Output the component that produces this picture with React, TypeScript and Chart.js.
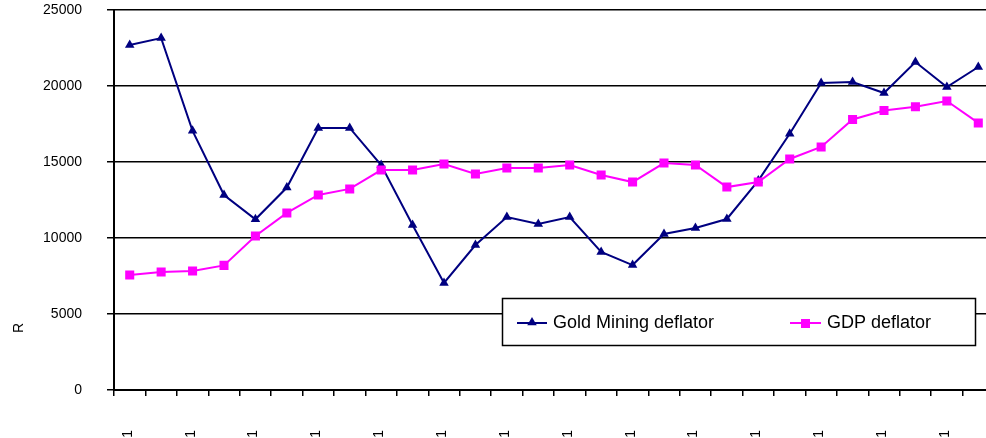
import React, { useEffect, useRef } from 'react';
import { Chart, registerables } from 'chart.js';

Chart.register(...registerables);

const periods = [
  '1980:1', '1980:2', '1981:1', '1981:2', '1982:1', '1982:2', '1983:1', '1983:2',
  '1984:1', '1984:2', '1985:1', '1985:2', '1986:1', '1986:2', '1987:1', '1987:2',
  '1988:1', '1988:2', '1989:1', '1989:2', '1990:1', '1990:2', '1991:1', '1991:2',
  '1992:1', '1992:2', '1993:1', '1993:2',
];

const goldMining = [
  22700, 23150, 17050, 12830, 11230, 13320, 17240, 17240, 14800, 10860,
  7040, 9540, 11380, 10920, 11380, 9080, 8220, 10260, 10660, 11250,
  13780, 16860, 20200, 20260, 19540, 21580, 19930, 21250,
];

const gdpDeflator = [
  7570, 7760, 7830, 8200, 10130, 11650, 12830, 13230, 14470, 14470,
  14870, 14210, 14600, 14600, 14800, 14150, 13680, 14930, 14800, 13350,
  13680, 15200, 15990, 17800, 18390, 18640, 19010, 17570,
];

const yMin = 0;
const yMax = 25000;
const yStep = 5000;

const seriesNames = ['Gold Mining deflator', 'GDP deflator'];
const yTitle = 'R';
const NAVY = '#000080';
const MAGENTA = '#FF00FF';
const FONT = '"Liberation Sans", Arial, sans-serif';

function drawTriangle(ctx: CanvasRenderingContext2D, x: number, y: number, r: number, color: string) {
  ctx.beginPath();
  ctx.moveTo(x, y - r);
  ctx.lineTo(x + r * Math.sin((2 * Math.PI) / 3), y + r / 2);
  ctx.lineTo(x - r * Math.sin((2 * Math.PI) / 3), y + r / 2);
  ctx.closePath();
  ctx.fillStyle = color;
  ctx.fill();
}

const overlayPlugin = {
  id: 'overlay',
  afterDatasetsDraw(chart: any) {
    const ctx: CanvasRenderingContext2D = chart.ctx;
    ctx.save();
    // legend box
    ctx.fillStyle = '#ffffff';
    ctx.fillRect(502, 298, 473, 47);
    ctx.strokeStyle = '#000000';
    ctx.lineWidth = 1.5;
    ctx.strokeRect(502.5, 298.5, 473, 47);

    ctx.lineWidth = 2;
    ctx.strokeStyle = NAVY;
    ctx.beginPath();
    ctx.moveTo(517, 323);
    ctx.lineTo(547, 323);
    ctx.stroke();
    drawTriangle(ctx, 532, 322.5, 5.5, NAVY);

    ctx.strokeStyle = MAGENTA;
    ctx.beginPath();
    ctx.moveTo(790, 323);
    ctx.lineTo(821, 323);
    ctx.stroke();
    ctx.fillStyle = MAGENTA;
    ctx.fillRect(801, 319, 9, 9);

    ctx.fillStyle = '#000000';
    ctx.font = `18px ${FONT}`;
    ctx.textAlign = 'left';
    ctx.textBaseline = 'middle';
    ctx.fillText(seriesNames[0], 553, 323);
    ctx.fillText(seriesNames[1], 827, 323);
    ctx.restore();
  },
  afterDraw(chart: any) {
    const ctx: CanvasRenderingContext2D = chart.ctx;
    const xs = chart.scales.x;
    ctx.save();
    ctx.fillStyle = '#000000';
    ctx.font = `14px ${FONT}`;
    periods.forEach((lab, i) => {
      if (i % 2 !== 0) return;
      const x = xs.getPixelForValue(i);
      ctx.save();
      ctx.translate(x + 2, 430);
      ctx.rotate(-Math.PI / 2);
      ctx.textAlign = 'right';
      ctx.textBaseline = 'alphabetic';
      ctx.fillText(lab, 0, 0);
      ctx.restore();
    });
    // y axis title
    ctx.save();
    ctx.translate(23, 328);
    ctx.rotate(-Math.PI / 2);
    ctx.textAlign = 'center';
    ctx.textBaseline = 'alphabetic';
    ctx.fillText(yTitle, 0, 0);
    ctx.restore();
    ctx.restore();
  },
};

export default function App() {
  const canvasRef = useRef<HTMLCanvasElement | null>(null);

  useEffect(() => {
    if (!canvasRef.current) return;
    const chart = new Chart(canvasRef.current, {
      type: 'line',
      data: {
        labels: periods,
        datasets: [
          {
            label: seriesNames[0],
            data: goldMining,
            borderColor: NAVY,
            backgroundColor: NAVY,
            borderWidth: 2,
            pointStyle: 'triangle',
            pointRadius: 5.5,
            pointBorderWidth: 0,
            pointBackgroundColor: NAVY,
            tension: 0,
            order: 1,
          },
          {
            label: seriesNames[1],
            data: gdpDeflator,
            borderColor: MAGENTA,
            backgroundColor: MAGENTA,
            borderWidth: 2,
            pointStyle: 'rect',
            pointRadius: 6.4,
            pointBorderWidth: 0,
            pointBackgroundColor: MAGENTA,
            tension: 0,
            order: 0,
          },
        ],
      },
      options: {
        responsive: false,
        animation: false,
        layout: { padding: { top: 10, right: 16, bottom: 0, left: 0 } },
        plugins: {
          legend: { display: false },
          tooltip: { enabled: false },
        },
        scales: {
          x: {
            type: 'category',
            offset: true,
            grid: {
              offset: true,
              drawOnChartArea: false,
              drawTicks: true,
              tickLength: 6,
              color: '#000000',
              lineWidth: 1.5,
            },
            border: { display: true, color: '#000000', width: 2 },
            ticks: { display: false, autoSkip: false },
            afterFit: (scale: any) => {
              scale.height = 48;
              scale.paddingLeft = 0;
              scale.paddingRight = 0;
            },
          },
          y: {
            min: yMin,
            max: yMax,
            grid: {
              color: '#000000',
              lineWidth: 1.5,
              drawTicks: true,
              tickLength: 7,
            },
            border: { display: true, color: '#000000', width: 2 },
            ticks: {
              stepSize: yStep,
              padding: 25,
              color: '#000000',
              font: { family: FONT, size: 14 },
              callback: (v: any) => String(v),
            },
            afterFit: (scale: any) => {
              scale.width = 114;
              scale.paddingTop = 0;
              scale.paddingBottom = 0;
            },
          },
        },
      },
      plugins: [overlayPlugin],
    });
    return () => chart.destroy();
  }, []);

  return (
    <div
      style={{
        position: 'fixed',
        left: 0,
        top: 0,
        width: 986,
        height: 438,
        overflow: 'hidden',
        background: '#ffffff',
      }}
    >
      <canvas ref={canvasRef} width={1010} height={438} style={{ display: 'block' }} />
    </div>
  );
}
